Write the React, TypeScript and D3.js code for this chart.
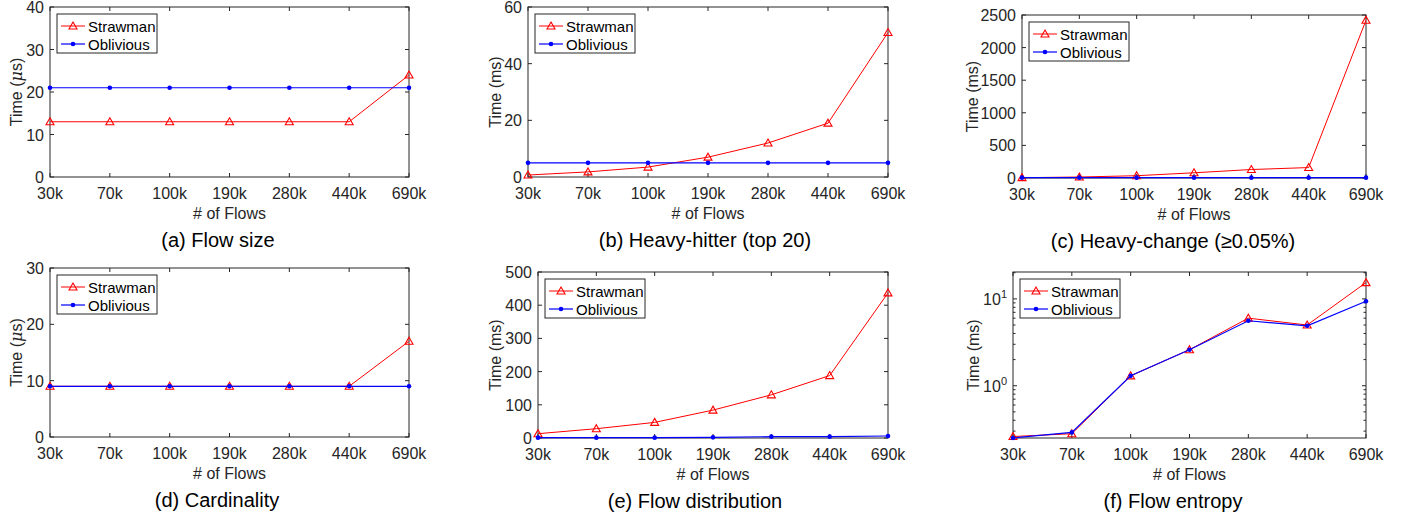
import React from "react";
import * as d3 from "d3";

const flows = ["30k", "70k", "100k", "190k", "280k", "440k", "690k"];

const flowSizeStrawman = [13, 13, 13, 13, 13, 13, 24];
const flowSizeOblivious = [21, 21, 21, 21, 21, 21, 21];

const heavyHitterStrawman = [0.7, 1.8, 3.5, 7, 12, 19, 51];
const heavyHitterOblivious = [5, 5, 5, 5, 5, 5, 5];

const heavyChangeStrawman = [5, 15, 35, 80, 130, 160, 2420];
const heavyChangeOblivious = [5, 5, 5, 5, 5, 5, 5];

const cardinalityStrawman = [9, 9, 9, 9, 9, 9, 17];
const cardinalityOblivious = [9, 9, 9, 9, 9, 9, 9];

const distributionStrawman = [13, 28, 47, 84, 130, 188, 437];
const distributionOblivious = [1, 1, 1, 2, 4, 4, 6];

const entropyStrawman = [0.26, 0.28, 1.3, 2.6, 6.0, 5.0, 15.4];
const entropyOblivious = [0.25, 0.29, 1.3, 2.6, 5.6, 4.9, 9.4];

const seriesNames = ["Strawman", "Oblivious"];

const panels = [
  { caption: "(a) Flow size", unit: "mu", s: flowSizeStrawman, o: flowSizeOblivious,
    domain: [0, 40], ticks: [0, 10, 20, 30, 40], log: false,
    box: { x: 50, y: 7, w: 359, h: 170 }, labelX: 16, capX: 218 },
  { caption: "(b) Heavy-hitter (top 20)", unit: "ms", s: heavyHitterStrawman, o: heavyHitterOblivious,
    domain: [0, 60], ticks: [0, 20, 40, 60], log: false,
    box: { x: 528, y: 7, w: 360, h: 170 }, labelX: 495, capX: 705 },
  { caption: "(c) Heavy-change (\u22650.05%)", unit: "ms", s: heavyChangeStrawman, o: heavyChangeOblivious,
    domain: [0, 2500], ticks: [0, 500, 1000, 1500, 2000, 2500], log: false,
    box: { x: 1022, y: 15, w: 344, h: 163 }, labelX: 972, capX: 1173 },
  { caption: "(d) Cardinality", unit: "mu", s: cardinalityStrawman, o: cardinalityOblivious,
    domain: [0, 30], ticks: [0, 10, 20, 30], log: false,
    box: { x: 50, y: 268, w: 359, h: 169 }, labelX: 16, capX: 217 },
  { caption: "(e) Flow distribution", unit: "ms", s: distributionStrawman, o: distributionOblivious,
    domain: [0, 500], ticks: [0, 100, 200, 300, 400, 500], log: false,
    box: { x: 538, y: 272, w: 350, h: 166 }, labelX: 495, capX: 695 },
  { caption: "(f) Flow entropy", unit: "ms", s: entropyStrawman, o: entropyOblivious,
    domain: [0.25, 20.4], ticks: [1, 10], log: true,
    box: { x: 1013, y: 272, w: 353, h: 166 }, labelX: 973, capX: 1173 },
];

const RED = "#ff0000";
const BLUE = "#0000ff";
const AXIS = "#262626";
const FONT = "'Liberation Sans', Arial, Helvetica, sans-serif";

function Triangle({ x, y }: { x: number; y: number }) {
  const r = 4;
  return (
    <path
      d={`M${x},${y - r} L${x + r},${y + r * 0.75} L${x - r},${y + r * 0.75} Z`}
      fill="none"
      stroke={RED}
      strokeWidth={1.1}
    />
  );
}

function Panel({ p }: { p: (typeof panels)[number] }) {
  const { x, y, w, h } = p.box;
  const xScale = d3.scalePoint<string>().domain(flows).range([x, x + w]).padding(0);
  const yScale = p.log
    ? d3.scaleLog().domain(p.domain).range([y + h, y])
    : d3.scaleLinear().domain(p.domain).range([y + h, y]);

  const line = d3
    .line<number>()
    .x((_, i) => xScale(flows[i]) as number)
    .y((d) => yScale(d));

  const tickLen = 4;
  const minor: number[] = [];
  if (p.log) {
    [0.1, 1, 10].forEach((dec) => {
      for (let k = 2; k <= 9; k++) {
        const v = dec * k;
        if (v >= p.domain[0] && v <= p.domain[1]) minor.push(v);
      }
    });
  }

  const lx = x + 7;
  const ly = y + 7;

  return (
    <g fontFamily={FONT}>
      {/* box */}
      <rect x={x} y={y} width={w} height={h} fill="white" stroke={AXIS} strokeWidth={1} />

      {/* x ticks */}
      {flows.map((f) => {
        const tx = xScale(f) as number;
        return (
          <g key={f}>
            <line x1={tx} x2={tx} y1={y + h} y2={y + h - tickLen} stroke={AXIS} />
            <line x1={tx} x2={tx} y1={y} y2={y + tickLen} stroke={AXIS} />
            <text x={tx} y={y + h + 22} textAnchor="middle" fontSize={16} fill={AXIS}>
              {f}
            </text>
          </g>
        );
      })}

      {/* y ticks */}
      {p.ticks.map((t) => {
        const ty = yScale(t);
        return (
          <g key={t}>
            <line x1={x} x2={x + tickLen} y1={ty} y2={ty} stroke={AXIS} />
            <line x1={x + w} x2={x + w - tickLen} y1={ty} y2={ty} stroke={AXIS} />
            {p.log ? (
              <text x={x - 6} y={ty + 6} textAnchor="end" fontSize={16} fill={AXIS}>
                10
                <tspan dy={-7} fontSize={11}>
                  {Math.round(Math.log10(t))}
                </tspan>
              </text>
            ) : (
              <text x={x - 6} y={ty + 6} textAnchor="end" fontSize={16} fill={AXIS}>
                {t}
              </text>
            )}
          </g>
        );
      })}
      {minor.map((t) => {
        const ty = yScale(t);
        return (
          <g key={"m" + t}>
            <line x1={x} x2={x + 2.5} y1={ty} y2={ty} stroke={AXIS} />
            <line x1={x + w} x2={x + w - 2.5} y1={ty} y2={ty} stroke={AXIS} />
          </g>
        );
      })}

      {/* axis labels */}
      <text x={x + w / 2} y={y + h + 42} textAnchor="middle" fontSize={16} fill={AXIS}>
        # of Flows
      </text>
      <text
        transform={`translate(${p.labelX + 6},${y + h / 2}) rotate(-90)`}
        textAnchor="middle"
        fontSize={16}
        fill={AXIS}
      >
        {p.unit === "mu" ? (
          <>
            Time (<tspan fontStyle="italic" fontFamily="'DejaVu Serif', serif">{"\u03bc"}</tspan>s)
          </>
        ) : (
          "Time (ms)"
        )}
      </text>

      {/* series: strawman first, oblivious on top */}
      <path d={line(p.s) as string} fill="none" stroke={RED} strokeWidth={1} />
      {p.s.map((v, i) => (
        <Triangle key={"s" + i} x={xScale(flows[i]) as number} y={yScale(v)} />
      ))}
      <path d={line(p.o) as string} fill="none" stroke={BLUE} strokeWidth={1.2} />
      {p.o.map((v, i) => (
        <circle key={"o" + i} cx={xScale(flows[i]) as number} cy={yScale(v)} r={2.3} fill={BLUE} />
      ))}

      {/* legend */}
      <rect x={lx} y={ly} width={100} height={39} fill="white" stroke={AXIS} strokeWidth={1} />
      <line x1={lx + 4} x2={lx + 28} y1={ly + 12} y2={ly + 12} stroke={RED} />
      <Triangle x={lx + 16} y={ly + 12} />
      <text x={lx + 31} y={ly + 17.5} fontSize={15} fill="black">
        {seriesNames[0]}
      </text>
      <line x1={lx + 4} x2={lx + 28} y1={ly + 30} y2={ly + 30} stroke={BLUE} strokeWidth={1.2} />
      <circle cx={lx + 16} cy={ly + 30} r={2.3} fill={BLUE} />
      <text x={lx + 31} y={ly + 35.5} fontSize={15} fill="black">
        {seriesNames[1]}
      </text>

      {/* caption */}
      <text x={p.capX} y={y + h + 70} textAnchor="middle" fontSize={20} fill="black">
        {p.caption}
      </text>
    </g>
  );
}

export default function App() {
  return (
    <svg width={1406} height={514} style={{ position: "absolute", left: 0, top: 0, background: "white" }}>
      <rect width={1406} height={514} fill="white" />
      {panels.map((p, i) => (
        <Panel key={i} p={p} />
      ))}
    </svg>
  );
}
